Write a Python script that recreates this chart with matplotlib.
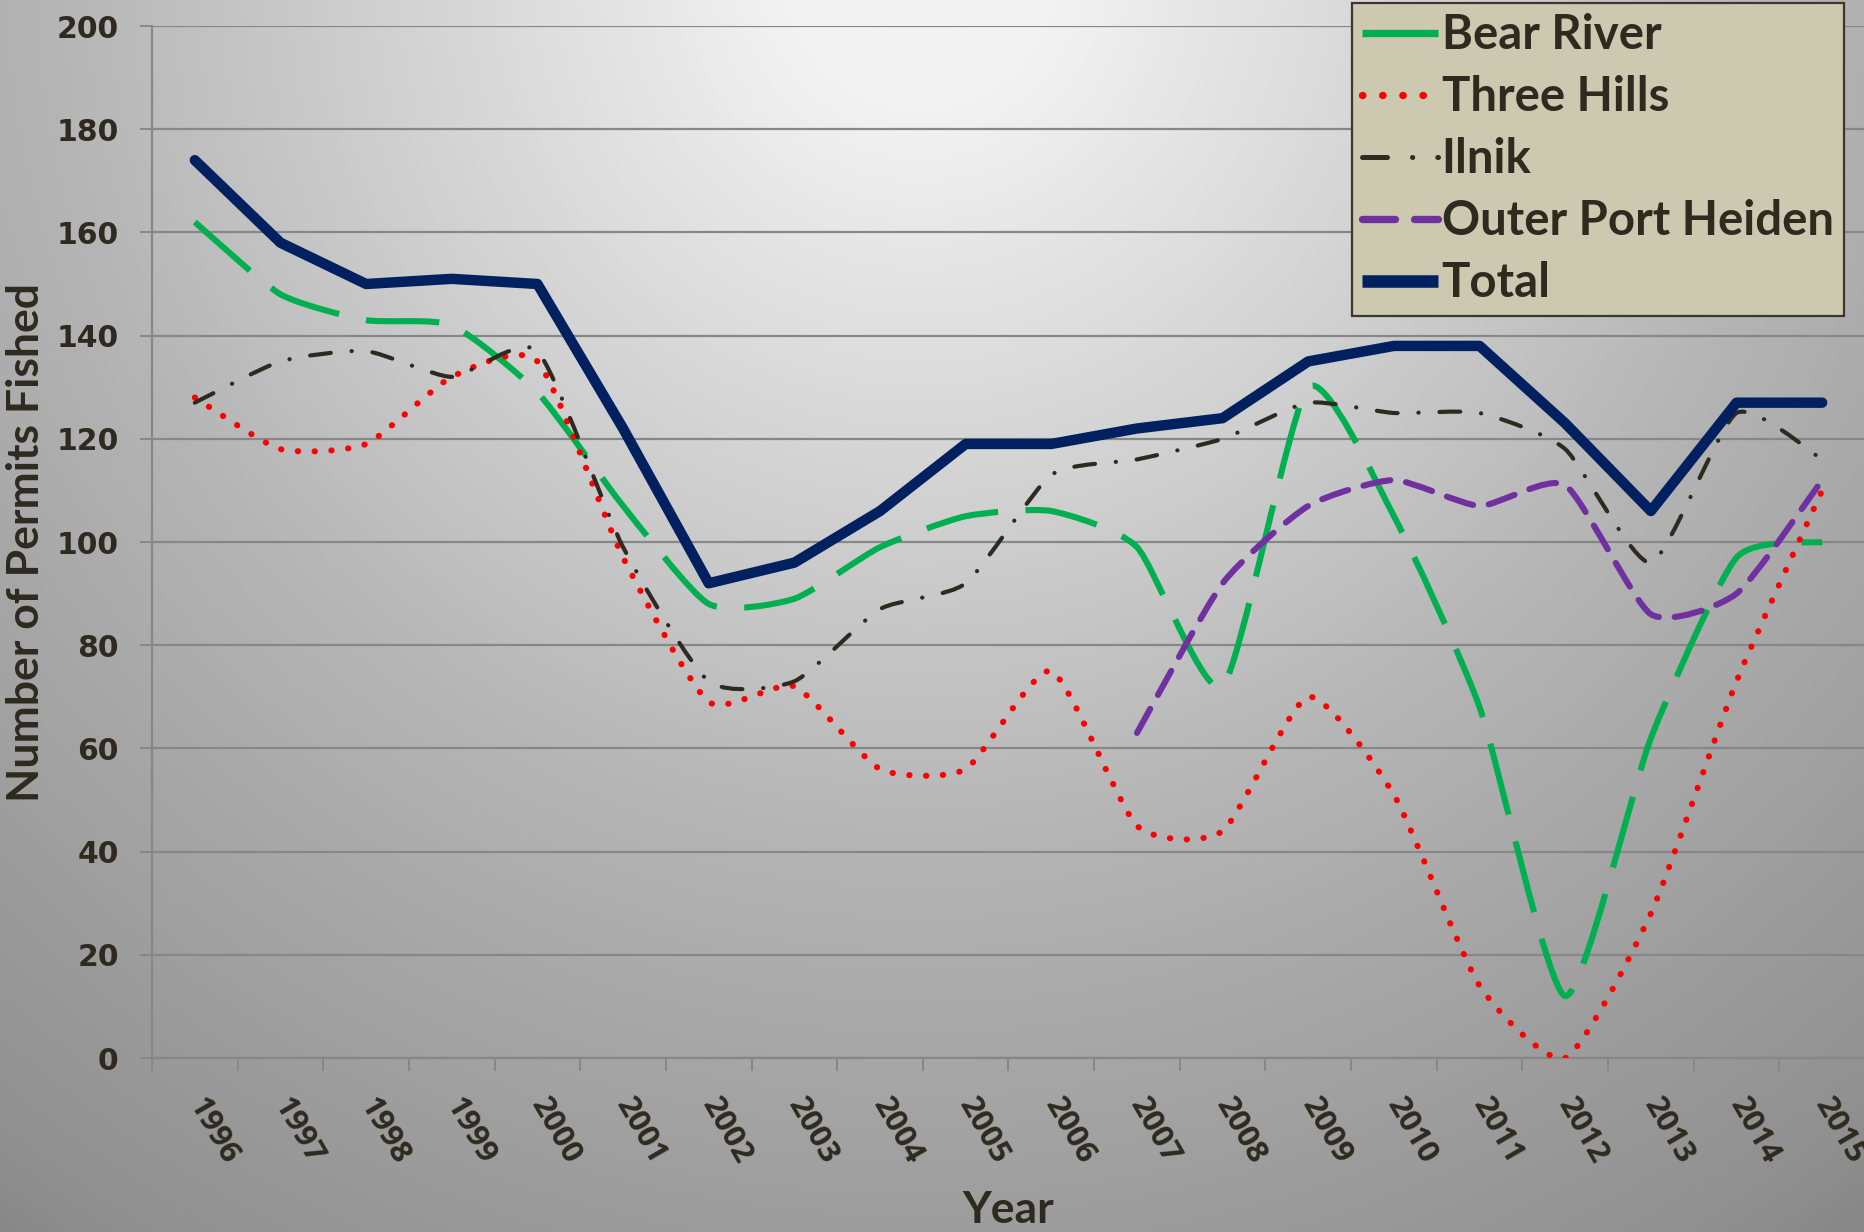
import numpy as np
import matplotlib
matplotlib.use("Agg")
import matplotlib.pyplot as plt
from matplotlib.path import Path
from matplotlib.patches import PathPatch
from matplotlib.lines import Line2D

# ---------------- data ----------------
years = [str(y) for y in range(1996, 2016)]
bear_river = [162, 148, 143, 142, 129, 107, 88, 89, 99, 105, 106, 99, 72, 130, 105, 68, 12, 62, 97, 100]
three_hills = [128, 118, 119, 132, 135, 97, 69, 72, 56, 56, 75, 45, 44, 70, 51, 14, 0, 28, 73, 110]
ilnik = [127, 135, 137, 132, 137, 99, 73, 73, 87, 92, 113, 116, 120, 127, 125, 125, 118, 96, 125, 116]
outer_port_heiden = [None] * 11 + [63, 92, 107, 112, 107, 111, 86, 90, 112]
total = [174, 158, 150, 151, 150, 122, 92, 96, 106, 119, 119, 122, 124, 135, 138, 138, 123, 106, 127, 127]
series_names = ["Bear River", "Three Hills", "Ilnik", "Outer Port Heiden", "Total"]
y_ticks = list(range(0, 201, 20))

W, H = 1865, 1232
DPI = 100
TEXT = "#2E2A1F"
GRID = "#878787"

fig = plt.figure(figsize=(W / DPI, H / DPI), dpi=DPI)

# ---------------- background gradient ----------------
bg = fig.add_axes([0, 0, 1, 1], zorder=-10)
yy, xx = np.mgrid[0:H:4, 0:W:4]
d = np.hypot(xx - 920.0, yy + 30.0)
val = np.interp(d, [0, 140, 870, 1090, 1510, 1545, 1700], [244, 242, 181, 167, 142, 137, 132]) / 255.0
bg.imshow(np.dstack([val, val, val]), aspect="auto", extent=[0, 1, 0, 1], interpolation="bilinear")
bg.set_axis_off()

# ---------------- main axes ----------------
L, R, T, B = 152, 1865, 26, 1058
ax = fig.add_axes([L / W, 1 - B / H, (R - L) / W, (B - T) / H])
ax.set_facecolor("none")
ax.set_xlim(-0.5, len(years) - 0.5)
ax.set_ylim(0, 200)

for s in ["top", "right"]:
    ax.spines[s].set_visible(False)
for s in ["left", "bottom"]:
    ax.spines[s].set_color(GRID)
    ax.spines[s].set_linewidth(1.6)

ax.set_yticks(y_ticks)
ax.set_yticklabels([str(v) for v in y_ticks], fontfamily="DejaVu Sans", fontweight="bold",
                   fontsize=21.5, color=TEXT)
ax.tick_params(axis="y", length=9, width=1.4, color=GRID, pad=15)
ax.yaxis.grid(True, color=GRID, linewidth=1.6)
ax.set_axisbelow(True)

x = np.arange(len(years))
ax.set_xticks(x)
ax.set_xticklabels(years, rotation=-60, rotation_mode="anchor", ha="left", va="center",
                   fontfamily="Open Sans", fontweight="bold", fontsize=22.5, color=TEXT)
ax.tick_params(axis="x", which="major", length=0, pad=30)
ax.set_xticks(np.arange(-0.5, len(years)), minor=True)
ax.tick_params(axis="x", which="minor", length=9, width=1.4, color=GRID)

SMOOTH = 0.1


def smooth_path(xs, ys):
    pts = np.column_stack([xs, ys]).astype(float)
    n = len(pts)
    verts = [pts[0]]
    codes = [Path.MOVETO]
    for i in range(n - 1):
        p0 = pts[i - 1] if i > 0 else pts[i]
        p1 = pts[i]
        p2 = pts[i + 1]
        p3 = pts[i + 2] if i + 2 < n else pts[i + 1]
        verts += [p1 + (p2 - p0) * SMOOTH, p2 - (p3 - p1) * SMOOTH, p2]
        codes += [Path.CURVE4] * 3
    return Path(verts, codes)


styles = {
    "Bear River": dict(color="#00B050", lw=4.4, ls=(0, (12, 4.5)), cap="butt"),
    "Three Hills": dict(color="#FF0000", lw=4.4, ls=(0, (0.05, 2.7)), cap="round"),
    "Ilnik": dict(color="#2E2A20", lw=3.0, ls=(0, (5, 5, 0.05, 5)), cap="round"),
    "Outer Port Heiden": dict(color="#7030A0", lw=4.4, ls=(0, (4.5, 2.6)), cap="round"),
    "Total": dict(color="#002060", lw=7.5, ls="solid", cap="round"),
}
data = {
    "Bear River": bear_river,
    "Three Hills": three_hills,
    "Ilnik": ilnik,
    "Outer Port Heiden": outer_port_heiden,
    "Total": total,
}

handles = []
for name in series_names:
    st = styles[name]
    vals = data[name]
    xs = [xi for xi, v in zip(x, vals) if v is not None]
    ys = [v for v in vals if v is not None]
    if name == "Total":
        ax.plot(xs, ys, color=st["color"], lw=st["lw"], solid_capstyle="round",
                solid_joinstyle="round", zorder=5)
    else:
        patch = PathPatch(smooth_path(xs, ys), fill=False, edgecolor=st["color"],
                          lw=st["lw"], linestyle=st["ls"], capstyle=st["cap"],
                          joinstyle="round", zorder=4)
        ax.add_patch(patch)
    handles.append(Line2D([], [], color=st["color"], lw=st["lw"] * 1.2, linestyle=st["ls"],
                          dash_capstyle=st["cap"], solid_capstyle="butt"))

leg = fig.legend(handles, series_names, loc="upper right",
                 bbox_to_anchor=(1844 / W, 1 - 3 / H), borderaxespad=0,
                 prop=dict(family="Lato", weight="bold", size=34),
                 frameon=True, fancybox=False, handlelength=1.6, handletextpad=0.08,
                 labelspacing=0.38, borderpad=0.22)
leg.get_frame().set_facecolor("#CCC9B0")
leg.get_frame().set_edgecolor("#3A382E")
leg.get_frame().set_linewidth(1.6)
leg.get_frame().set_alpha(1)
for t in leg.get_texts():
    t.set_color(TEXT)

fig.text(26 / W, 1 - 542 / H, "Number of Permits Fished", rotation=90, ha="center", va="center",
         fontfamily="Lato", fontweight="bold", fontsize=32, color=TEXT)
fig.text(1008 / W, 1 - 1210 / H, "Year", ha="center", va="center",
         fontfamily="Lato", fontweight="bold", fontsize=32, color=TEXT)

fig.savefig("out.png", dpi=DPI)
